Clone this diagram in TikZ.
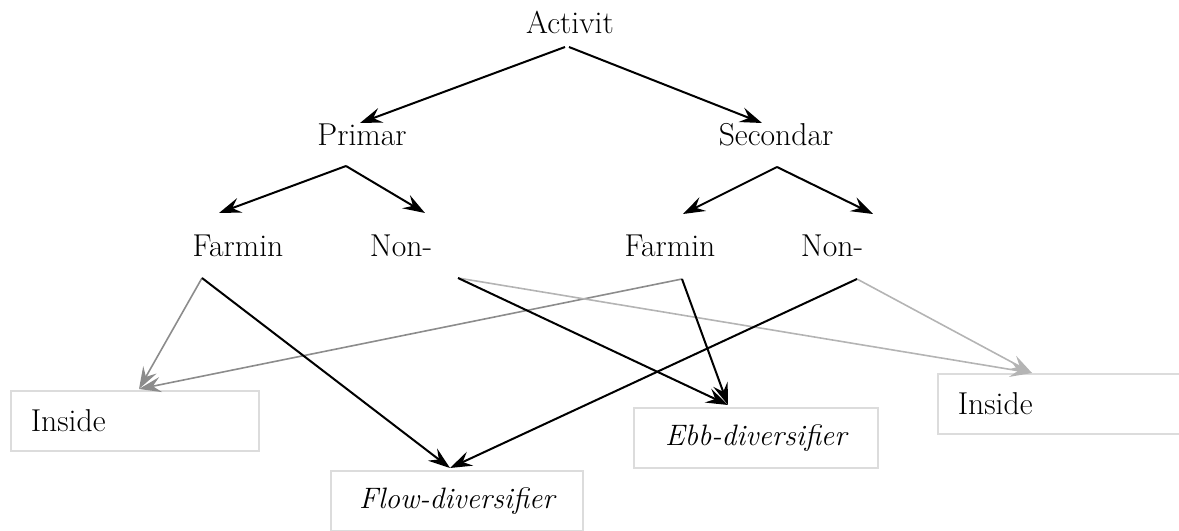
\documentclass[tikz,border=0pt]{standalone}
\usepackage{xcolor}
\usepackage{tikz}
\usetikzlibrary{arrows.meta,positioning}

\definecolor{boxgray}{HTML}{DCDCDC}
\definecolor{midgray}{HTML}{8C8C8C}
\definecolor{palegray}{HTML}{B4B4B4}

\begin{document}
\begin{tikzpicture}[x=0.025cm,y=-0.025cm]
  \tikzstyle{every path}=[line width=0.05cm]
  \tikzstyle{lbl}=[font=\fontsize{22.5}{26}\selectfont,inner sep=0,anchor=base]
  \tikzstyle{outbox}=[draw=boxgray,line width=0.04cm,minimum height=1.5cm,inner xsep=0.5cm,anchor=north west,font=\fontsize{22.5}{26}\selectfont]
  \tikzstyle{itbox}=[outbox,font=\fontsize{21}{25}\selectfont\itshape,align=center]
  \tikzstyle{link}=[-{Stealth[length=0.55cm,width=0.38cm,inset=0.2cm]}]
  \tikzstyle{graylink}=[link,draw=midgray,line width=0.04cm]
  \tikzstyle{palelink}=[link,draw=palegray,line width=0.04cm]

  \useasboundingbox (0,0) rectangle (1179,531);

  \node [lbl] (act) at (570,34) {Activit};
  \node [lbl] (prim) at (362,146) {Primar};
  \node [lbl] (sec) at (776,146) {Secondar};
  \node [lbl] (farm1) at (238,257) {Farmin};
  \node [lbl] (non1) at (401,257) {Non-};
  \node [lbl] (farm2) at (670,257) {Farmin};
  \node [lbl] (non2) at (832,257) {Non-};

  \node [outbox,text width=5.2cm,align=left] (in1) at (10,390) {Inside};
  \node [itbox,text width=5.3cm] (flow) at (330,470) {Flow-diversifier};
  \node [itbox,text width=5.1cm] (ebb) at (633,407) {Ebb-diversifier};
  \node [outbox,text width=5.2cm,align=left] (in2) at (937,373) {Inside};

  % ports
  \coordinate (act-l) at (565,47);
  \coordinate (act-r) at (569,47);
  \coordinate (prim-t) at (360,123);
  \coordinate (sec-t) at (762,123);
  \coordinate (prim-b) at (346,166);
  \coordinate (sec-b) at (777,167);
  \coordinate (farm1-t) at (219,213);
  \coordinate (non1-t) at (425,213);
  \coordinate (farm2-t) at (683,214);
  \coordinate (non2-t) at (873,214);
  \coordinate (farm1-b) at (202,278);
  \coordinate (non1-b) at (458,278);
  \coordinate (farm2-b) at (682,279);
  \coordinate (non2-b) at (857,279);
  \coordinate (in1-t) at (139,389);
  \coordinate (flow-t) at (450,468);
  \coordinate (ebb-t) at (728,405);
  \coordinate (in2-t) at (1032,373);

  \draw [link] (act-l) -- (prim-t);
  \draw [link] (act-r) -- (sec-t);
  \draw [link] (prim-b) -- (farm1-t);
  \draw [link] (prim-b) -- (non1-t);
  \draw [link] (sec-b) -- (farm2-t);
  \draw [link] (sec-b) -- (non2-t);

  \draw [graylink] (farm1-b) -- (in1-t);
  \draw [graylink] (farm2-b) -- (in1-t);
  \draw [palelink] (non1-b) -- (in2-t);
  \draw [palelink] (non2-b) -- (in2-t);
  \draw [link] (farm1-b) -- (flow-t);
  \draw [link] (non2-b) -- (flow-t);
  \draw [link] (non1-b) -- (ebb-t);
  \draw [link] (farm2-b) -- (ebb-t);
\end{tikzpicture}
\end{document}
